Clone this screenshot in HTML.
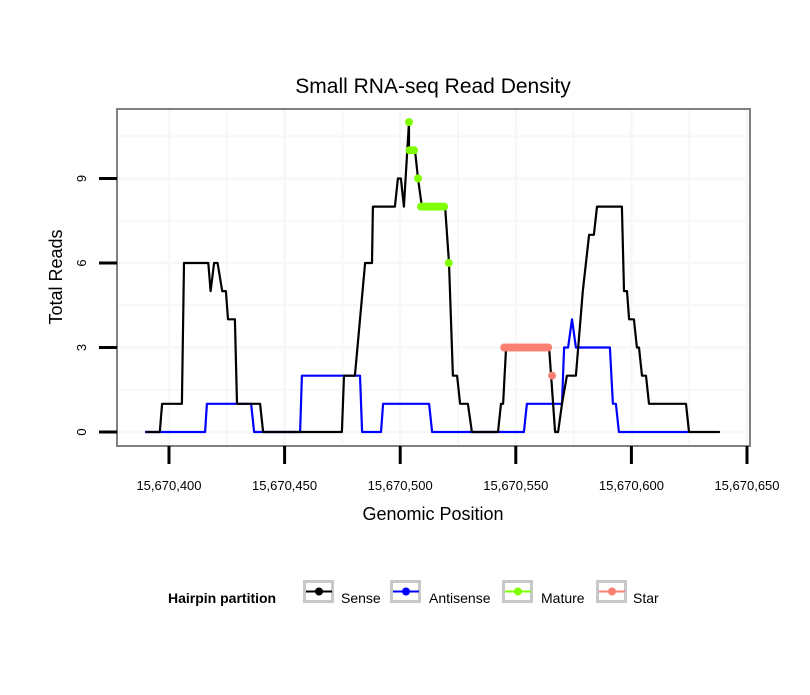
<!DOCTYPE html>
<html><head><meta charset="utf-8"><style>
body{margin:0;background:#fff;font-family:"Liberation Sans",sans-serif;}
</style></head><body>
<svg id="chart" width="810" height="690" xmlns="http://www.w3.org/2000/svg" font-family="Liberation Sans, sans-serif">
<rect width="810" height="690" fill="#fff"/>
<text x="433" y="93" font-size="21" text-anchor="middle">Small RNA-seq Read Density</text>
<g id="grid"></g>
<g id="series"></g>
<rect x="117" y="109" width="633" height="337" fill="none" stroke="#808080" stroke-width="2"/>
<g id="axes"></g>
<text x="433" y="520" font-size="18" text-anchor="middle">Genomic Position</text>
<text transform="translate(62,277) rotate(-90)" font-size="18" text-anchor="middle">Total Reads</text>
<g>
<text x="168" y="603" font-size="14" font-weight="bold">Hairpin partition</text>
<g id="legend"></g>
</g>
</svg>
<script>
const senseX=[390,396,397,405.6,406.5,417,418,419.5,421,423,424.6,425.5,428.5,429.4,439.4,440.7,474.8,475.7,480.4,484.8,487.8,488.2,497.7,499,500.3,501.6,503.8,503.8,506.4,507.7,509.4,519.4,521.1,522.8,524.6,525.9,529.3,531,542.3,543.6,544.5,545.8,564.4,567,568.3,570,572.1,576,579,581.7,583.8,585.1,595.9,596.8,598.1,599,601.1,602.4,603.3,604.6,606.3,607.6,623.6,624.9,638.3];
const senseY=[0,0,1,1,6,6,5,6,6,5,5,4,4,1,1,0,0,2,2,6,6,8,8,9,9,8,11,10,10,9,8,8,6,2,2,1,1,0,0,1,1,3,3,0,0,1,2,2,5,7,7,8,8,5,5,4,4,3,3,2,2,1,1,0,0];
const antiX=[389.6,415.6,416.4,435.5,436.8,456.7,457.5,482.6,483.5,491.7,492.6,512.5,513.8,553.5,554.8,570,570.9,572.6,574.3,576,590.7,592,593.3,594.6,624.5];
const antiY=[0,0,1,1,0,0,2,2,0,0,1,1,0,0,1,1,3,3,4,3,3,1,1,0,0];
const matureX=[503.8,504,505,506,507.7,509,510,511,512,513,514,515,516,517,518,519,521];
const matureY=[11,10,10,10,9,8,8,8,8,8,8,8,8,8,8,8,6];
const starX=[545,546,547,548,549,550,551,552,553,554,555,556,557,558,559,560,561,562,563,564,565.7];
const starY=[3,3,3,3,3,3,3,3,3,3,3,3,3,3,3,3,3,3,3,3,2];
const xTicks=[400,450,500,550,600,650];
const xTickLabels=["15,670,400","15,670,450","15,670,500","15,670,550","15,670,600","15,670,650"];
const yTicks=[0,3,6,9];

const NS="http://www.w3.org/2000/svg";
function X(p){return 169+(p-400)*2.312;}
function Y(v){return 432-v*28.17;}
function mk(tag,attrs,parent){const e=document.createElementNS(NS,tag);for(const k in attrs)e.setAttribute(k,attrs[k]);parent.appendChild(e);return e;}
const grid=document.getElementById('grid'),ser=document.getElementById('series'),axes=document.getElementById('axes'),leg=document.getElementById('legend');
for(let p=375;p<=750;p+=25){const x=X(p);if(x<118||x>749)continue;
 const l=mk('line',{x1:x,x2:x,y1:110,y2:445,stroke:'#f7f7f7','stroke-width':p%50===0?2.5:2},grid);
 
 }
for(let v=-1.5;v<=12;v+=1.5){const y=Y(v);if(y<110||y>445)continue;
 const l=mk('line',{x1:118,x2:749,y1:y,y2:y,stroke:'#f7f7f7','stroke-width':v%3===0?2.5:2},grid);
 
 }
function line(xs,ys,color,name){const d=xs.map((p,i)=>(i?'L':'M')+X(p).toFixed(1)+','+Y(ys[i]).toFixed(1)).join('');
 const e=mk('path',{d:d,fill:'none',stroke:color,'stroke-width':2.2,'stroke-linejoin':'round'},ser);
 
 }
line(antiX,antiY,'#0000ff','antisense-line');
line(senseX,senseY,'#000','sense-line');
function pts(xs,ys,color,name){xs.forEach((p,i)=>{const c=mk('circle',{cx:X(p),cy:Y(ys[i]),r:4,fill:color},ser);
 
 });}
pts(matureX,matureY,'#7fff00','mature-point');
pts(starX,starY,'#fa8072','star-point');
xTicks.forEach((t,i)=>{const x=X(t);
 const l=mk('line',{x1:x,x2:x,y1:446,y2:464,stroke:'#000','stroke-width':3},axes);
 
 
 const tx=mk('text',{x:x,y:490,'font-size':13,'text-anchor':'middle'},axes);tx.textContent=xTickLabels[i];
 
 });
yTicks.forEach(t=>{const y=Y(t);
 const l=mk('line',{x1:99,x2:117,y1:y,y2:y,stroke:'#000','stroke-width':3},axes);
 
 
 const tx=mk('text',{transform:`translate(86,${y}) rotate(-90)`,'font-size':13,'text-anchor':'middle'},axes);tx.textContent=t;
 
 });
const legNames=['Sense','Antisense','Mature','Star'],legColors=['#000','#0000ff','#7fff00','#fa8072'],legBox=[303,390,502,596],legText=[341,429,541,633];
legNames.forEach((n,i)=>{const g=mk('g',{},leg);
 
 
 mk('rect',{x:legBox[i]+1.5,y:581.5,width:28,height:20,fill:'#fff',stroke:'#c8c8c8','stroke-width':3},g);
 mk('line',{x1:legBox[i]+3,x2:legBox[i]+29,y1:591.5,y2:591.5,stroke:legColors[i],'stroke-width':2},g);
 mk('circle',{cx:legBox[i]+16,cy:591.5,r:4,fill:legColors[i]},g);
 const t=mk('text',{x:legText[i],y:603,'font-size':14},g);t.textContent=n;});
</script>
</body></html>
